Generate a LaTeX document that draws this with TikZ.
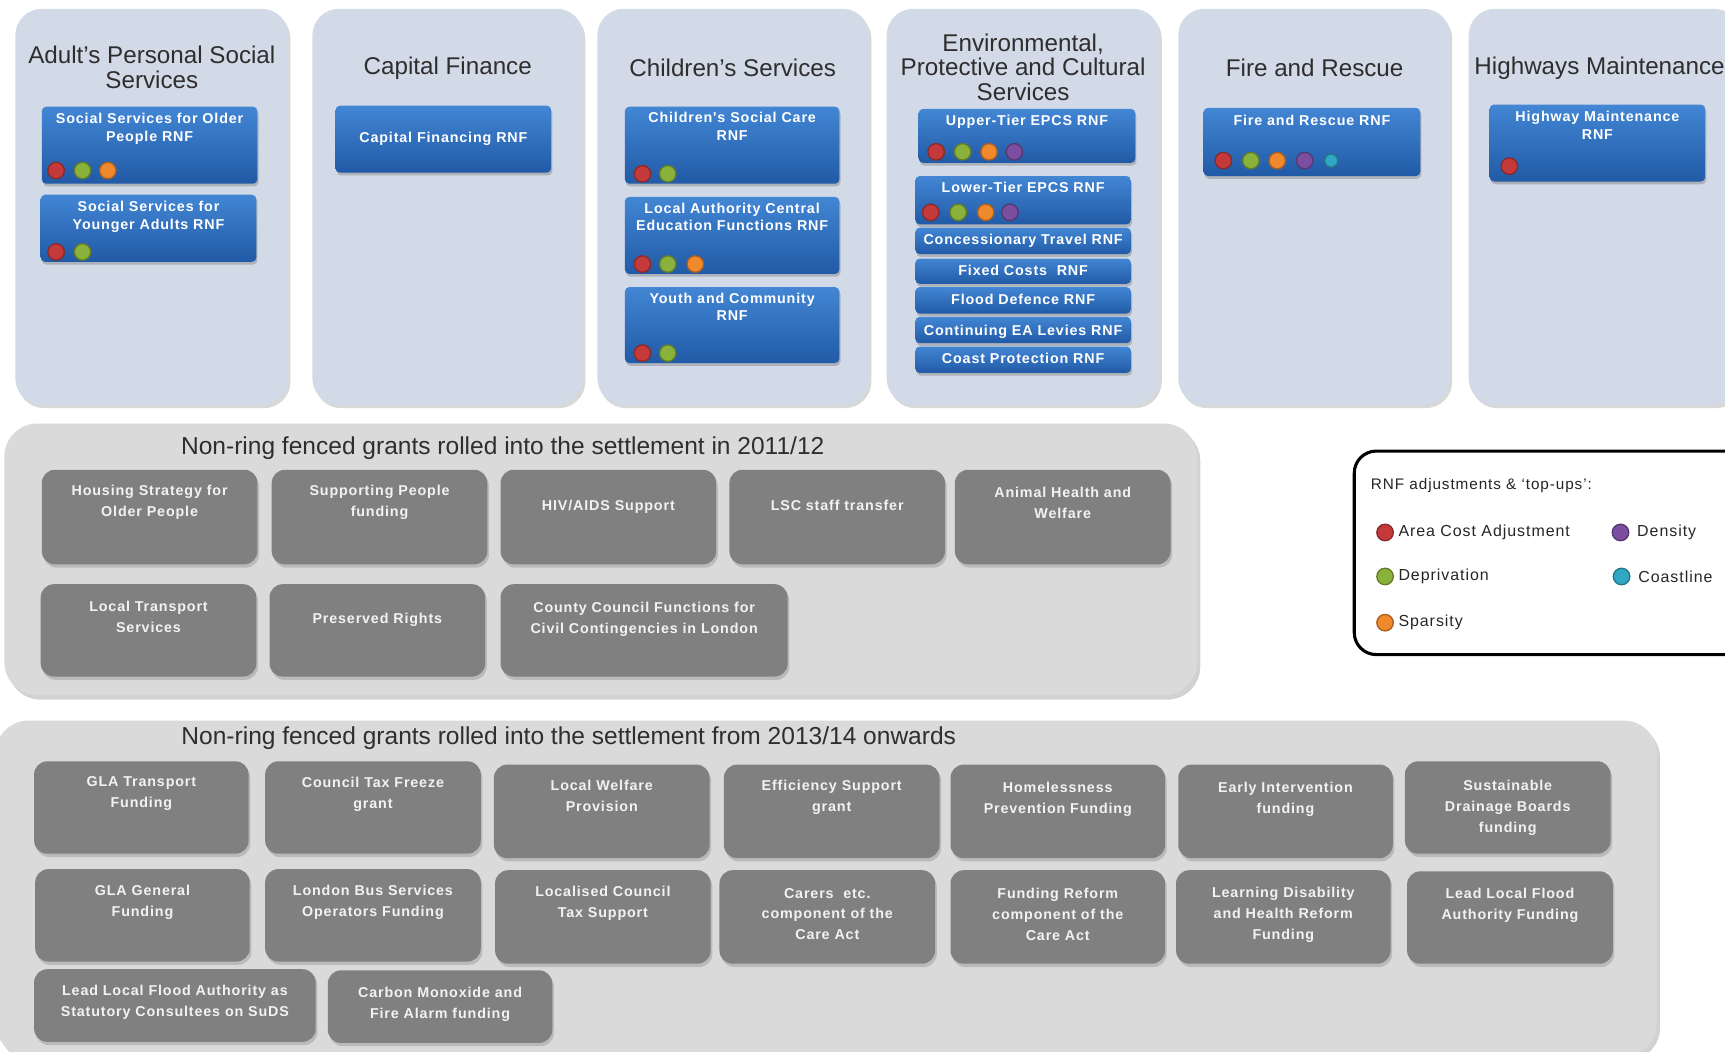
\documentclass[tikz,border=0pt]{standalone}
\usepackage{fontspec}
\setmainfont{Liberation Sans}
\newfontfamily\spfont[LetterSpace=6]{Liberation Sans}
\usetikzlibrary{shadows,fit}
\definecolor{panelc}{RGB}{210,218,232}
\definecolor{bluetop}{RGB}{66,134,212}
\definecolor{bluebot}{RGB}{33,90,166}
\definecolor{grayp}{RGB}{218,218,218}
\definecolor{grayb}{RGB}{128,128,128}
\definecolor{cred}{RGB}{196,58,58}
\definecolor{cgreen}{RGB}{138,178,58}
\definecolor{corange}{RGB}{240,136,44}
\definecolor{cpurple}{RGB}{124,78,160}
\definecolor{cteal}{RGB}{48,168,196}
\tikzset{
  panel/.style={fill=panelc, rounded corners=24pt, inner sep=0pt,
    drop shadow={shadow xshift=2pt, shadow yshift=-3pt, opacity=0.3}},
  sect/.style={fill=grayp, rounded corners=30pt, inner sep=0pt,
    drop shadow={shadow xshift=3pt, shadow yshift=-4pt, opacity=0.35}},
  bluebox/.style={rounded corners=4pt, top color=bluetop, bottom color=bluebot, inner sep=0pt,
    drop shadow={shadow xshift=1pt, shadow yshift=-2.5pt, opacity=0.45}},
  gbox/.style={fill=grayb, rounded corners=12pt, inner sep=0pt,
    drop shadow={shadow xshift=1.5pt, shadow yshift=-3pt, opacity=0.35}},
  btxt/.style={font=\spfont\bfseries\fontsize{13}{16}\selectfont, text=white, align=center, inner sep=0pt},
  gtxt/.style={font=\spfont\bfseries\fontsize{13}{19}\selectfont, text=white!95!black, align=center, inner sep=0pt},
  ttl/.style={font=\fontsize{22}{22.5}\selectfont, text=black!82, align=center, inner sep=0pt},
  sttl/.style={font=\fontsize{22.3}{24}\selectfont, text=black!82, inner sep=0pt},
  dotn/.style={circle, minimum size=15pt, inner sep=0pt, line width=1.2pt},
  legbox/.style={draw=black, line width=2.8pt, rounded corners=20pt, fill=white, inner sep=0pt},
  lgtxt/.style={font=\spfont\fontsize{14.5}{16}\selectfont, text=black!85, anchor=west, inner sep=0pt},
}
\newcommand\rnf[7]{%
  \node[bluebox, fit={(#2,#3) (#4,#5)}] (#1) {};
  \node[btxt, anchor=north] (#1t) at ({(#2+#4)/2},{#6-5}) {#7};}
\newcommand\gbx[7]{%
  \node[gbox, fit={(#2,#3) (#4,#5)}] (#1) {};
  \node[gtxt, anchor=north] (#1t) at ({(#2+#4)/2},{#6-6}) {#7};}
\newcommand\dotset[3]{%
  \foreach \x/\c [count=\i] in {#3} {\node[dotn, fill=\c, draw=\c!70!black] (#1d\i) at (\x,#2) {};}}
\begin{document}
\begin{tikzpicture}[x=1pt,y=-1pt]
\useasboundingbox (0,0) rectangle (1568,956);
\clip (0,0) rectangle (1568,956);
\fill[white] (0,0) rectangle (1568,956);

% top panels
\node[panel, fit={(14,8) (262,368)}] (p1) {};
\node[panel, fit={(284,8) (530,368)}] (p2) {};
\node[panel, fit={(543,8) (790,368)}] (p3) {};
\node[panel, fit={(806,8) (1054,368)}] (p4) {};
\node[panel, fit={(1071,8) (1318,368)}] (p5) {};
\node[panel, fit={(1335,8) (1582,368)}] (p6) {};

\node[ttl] (p1t) at (138,61) {Adult's Personal Social\\Services};
\node[ttl] (p2t) at (407,62) {Capital Finance};
\node[ttl] (p3t) at (666,62) {Children's Services};
\node[ttl] (p4t) at (930,61) {Environmental,\\Protective and Cultural\\Services};
\node[ttl] (p5t) at (1195,62) {Fire and Rescue};
\node[ttl] (p6t) at (1454,62) {Highways Maintenance};

% RNF boxes
\rnf{a1}{38}{97}{234}{167}{108}{Social Services for Older\\People RNF}
\dotset{a1}{155}{51/cred,75/cgreen,98/corange}
\rnf{a2}{37}{177}{233}{238}{188}{Social Services for\\Younger Adults RNF}
\dotset{a2}{229}{51/cred,75/cgreen}

\rnf{c1}{305}{96}{501}{157}{125}{Capital Financing RNF}

\rnf{k1}{568}{97}{763}{167}{107}{Children's Social Care\\RNF}
\dotset{k1}{158}{584/cred,607/cgreen}
\rnf{k2}{568}{179}{763}{249}{189}{Local Authority Central\\Education Functions RNF}
\dotset{k2}{240}{584/cred,607/cgreen,632/corange}
\rnf{k3}{568}{261}{763}{330}{271}{Youth and Community\\RNF}
\dotset{k3}{321}{584/cred,607/cgreen}

\rnf{e1}{835}{99}{1032}{148}{109}{Upper-Tier EPCS RNF}
\dotset{e1}{138}{851/cred,875/cgreen,899/corange,922/cpurple}
\rnf{e2}{832}{160}{1028}{204}{170}{Lower-Tier EPCS RNF}
\dotset{e2}{193}{846/cred,871/cgreen,896/corange,918/cpurple}
\rnf{e3}{832}{207}{1028}{231}{218}{Concessionary Travel RNF}
\rnf{e4}{832}{235}{1028}{258}{246}{Fixed Costs\ \ RNF}
\rnf{e5}{832}{261}{1028}{285}{272}{Flood Defence RNF}
\rnf{e6}{832}{288}{1028}{312}{300}{Continuing EA Levies RNF}
\rnf{e7}{832}{315}{1028}{339}{326}{Coast Protection RNF}

\rnf{f1}{1094}{98}{1291}{160}{109}{Fire and Rescue RNF}
\dotset{f1}{146}{1112/cred,1137/cgreen,1161/corange,1186/cpurple}
\node[dotn, minimum size=12pt, fill=cteal, draw=cteal!70!black] (f1d5) at (1210,146) {};

\rnf{h1}{1354}{95}{1550}{165}{106}{Highway Maintenance\\RNF}
\dotset{h1}{151}{1372/cred}

% section 2011/12
\node[sect, fit={(4,385) (1088,632)}] (s1) {};
\node[sttl] (s1t) at (457,407) {Non-ring fenced grants rolled into the settlement in 2011/12};
\gbx{g1}{38}{427}{234}{513}{447}{Housing Strategy for\\Older People}
\gbx{g2}{247}{427}{443}{513}{447}{Supporting People\\funding}
\gbx{g3}{455}{427}{651}{513}{460}{HIV/AIDS Support}
\gbx{g4}{663}{427}{859}{513}{460}{LSC staff transfer}
\gbx{g5}{868}{427}{1064}{513}{449}{Animal Health and\\Welfare}
\gbx{g6}{37}{531}{233}{615}{552}{Local Transport\\Services}
\gbx{g7}{245}{531}{441}{615}{563}{Preserved Rights}
\gbx{g8}{455}{531}{716}{615}{553}{County Council Functions for\\Civil Contingencies in London}

% legend
\node[legbox, fit={(1231,410) (1612,595)}] (leg) {};
\node[lgtxt, font=\spfont\fontsize{13.9}{16}\selectfont] (legh) at (1246,441) {RNF adjustments \& ‘top-ups’:};
\dotset{lgA}{484}{1259/cred,1473/cpurple}
\dotset{lgB}{524}{1259/cgreen,1474/cteal}
\dotset{lgC}{566}{1259/corange}
\node[lgtxt] (lg1) at (1271,484) {Area Cost Adjustment};
\node[lgtxt] (lg2) at (1488,484) {Density};
\node[lgtxt] (lg3) at (1271,524) {Deprivation};
\node[lgtxt] (lg4) at (1489,524) {Coastline};
\node[lgtxt] (lg5) at (1271,566) {Sparsity};

% section 2013/14
\node[sect, fit={(-4,655) (1506,960)}] (s2) {};
\node[sttl] (s2t) at (517,671) {Non-ring fenced grants rolled into the settlement from 2013/14 onwards};
\gbx{n1}{31}{692}{226}{776}{712}{GLA Transport\\Funding}
\gbx{n2}{241}{692}{437}{776}{712}{Council Tax Freeze\\grant}
\gbx{n3}{449}{695}{645}{780}{715}{Local Welfare\\Provision}
\gbx{n4}{658}{695}{854}{780}{715}{Efficiency Support\\grant}
\gbx{n5}{864}{695}{1059}{780}{717}{Homelessness\\Prevention Funding}
\gbx{n6}{1071}{695}{1266}{780}{717}{Early Intervention\\funding}
\gbx{n7}{1277}{692}{1464}{776}{715}{Sustainable\\Drainage Boards\\funding}
\gbx{n8}{32}{790}{227}{874}{810}{GLA General\\Funding}
\gbx{n9}{241}{790}{437}{874}{810}{London Bus Services\\Operators Funding}
\gbx{n10}{450}{791}{646}{876}{811}{Localised Council\\Tax Support}
\gbx{n11}{654}{791}{850}{876}{813}{Carers\ \ etc.\\component of the\\Care Act}
\gbx{n12}{864}{791}{1059}{876}{813}{Funding Reform\\component of the\\Care Act}
\gbx{n13}{1069}{791}{1264}{876}{812}{Learning Disability\\and Health Reform\\Funding}
\gbx{n14}{1279}{792}{1466}{876}{813}{Lead Local Flood\\Authority Funding}
\gbx{n15}{31}{881}{287}{947}{901}{Lead Local Flood Authority as\\Statutory Consultees on SuDS}
\gbx{n16}{298}{882}{502}{948}{903}{Carbon Monoxide and\\Fire Alarm funding}
\end{tikzpicture}
\end{document}
